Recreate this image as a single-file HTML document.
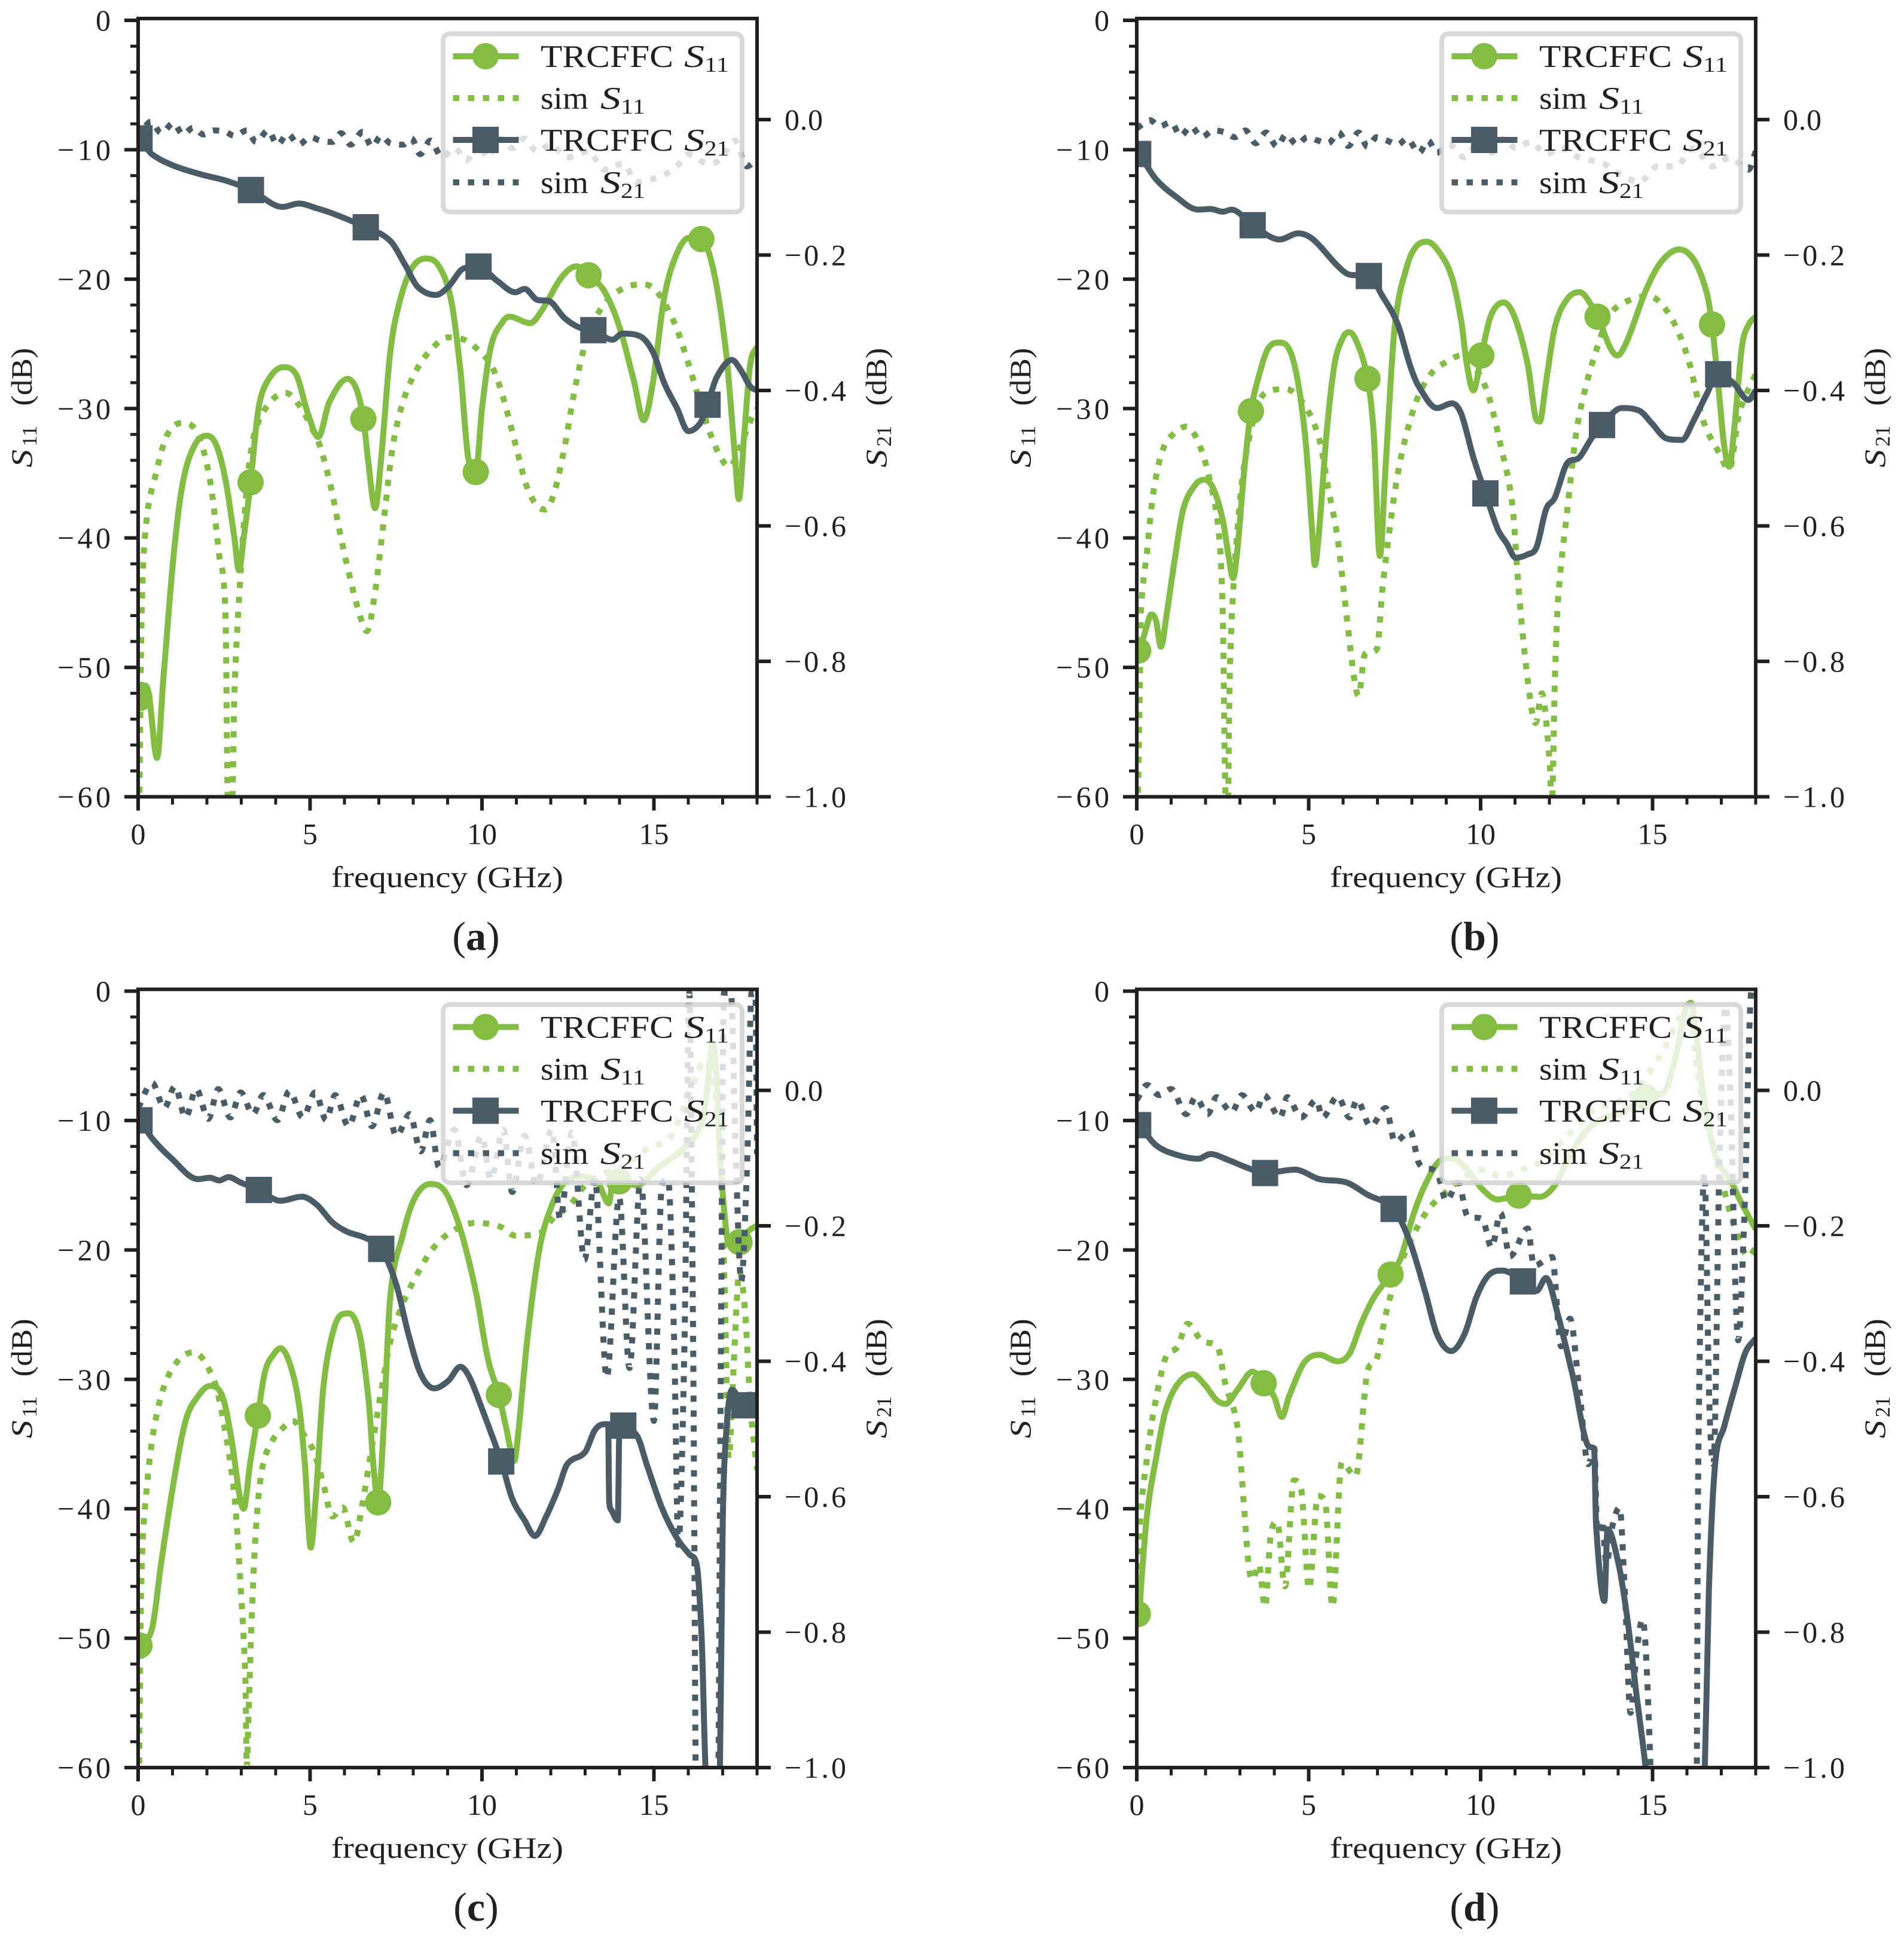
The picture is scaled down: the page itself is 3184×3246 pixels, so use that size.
<!DOCTYPE html>
<html>
<head>
<meta charset="utf-8">
<title>S-parameters of TRCFFC designs</title>
<style>
html,body{margin:0;padding:0;background:#fff;}
svg{display:block;}
text{font-family:"Liberation Serif",serif;fill:#231F20;}
</style>
</head>
<body>
<svg id="fig" xmlns="http://www.w3.org/2000/svg" width="3184" height="3246" viewBox="0 0 3184 3246"></svg>
<script>
// ---- axis tick values ----
const freqMajorTicks = [0,5,10,15];
const freqMinorTicks = [1,2,3,4,6,7,8,9,11,12,13,14,16,17,18];
const s11MajorTicks = [0,-10,-20,-30,-40,-50,-60];
const s11MinorTicks = [-2,-4,-6,-8,-12,-14,-16,-18,-22,-24,-26,-28,-32,-34,-36,-38,-42,-44,-46,-48,-52,-54,-56,-58];
const s21MajorTicks = [0,-0.2,-0.4,-0.6,-0.8,-1];
const s21TickLabels = ['0.0','−0.2','−0.4','−0.6','−0.8','−1.0'];
const legendNames = ['TRCFFC','sim','TRCFFC','sim'];
const legendSubs = ['11','11','21','21'];

// ---- panel (a) ----
const aS11MeasF = [0,.09,.2,.32,.55,.73,1.03,1.3,1.65,2,2.27,2.54,2.8,2.93,3.07,3.27,3.5,3.78,4.22,4.58,4.94,5.24,5.56,6.09,6.35,6.55,6.7,6.89,7.07,7.33,7.6,7.95,8.36,8.75,9.1,9.37,9.6,9.82,10,10.26,10.6,10.8,11.4,11.77,12.3,12.75,13.1,13.55,14,14.43,14.7,14.97,15.3,15.67,16.03,16.38,16.74,17.1,17.36,17.47,17.63,17.8,18];
const aS11Meas = [-52.5,-52.2,-51.4,-52.2,-57,-51,-41.4,-35.7,-32.8,-32.1,-32.8,-35.5,-40,-42.5,-40,-35.7,-30,-27.8,-26.8,-27.3,-30.4,-32.2,-29.5,-27.7,-28.5,-30.8,-34.3,-37.7,-33.8,-25.7,-21.8,-19.2,-18.4,-19,-21.6,-27,-33.8,-34.9,-30,-25.2,-23.3,-22.9,-23.4,-22.3,-19.9,-19,-19.7,-20.9,-23.7,-28,-30.9,-28,-21.4,-18,-16.8,-16.9,-19.4,-25.7,-33.8,-37,-31.9,-26.6,-25.2];
const aS11Marks = [.04,3.27,6.55,9.82,13.1,16.38];
const aS11SimF = [.03,.1,.23,.5,.85,1.3,1.74,2.1,2.36,2.54,2.62,2.72,2.8,2.95,3.1,3.27,3.5,3.95,4.3,4.7,5.05,5.3,5.6,5.9,6.2,6.45,6.65,6.9,7.15,7.4,7.7,8.1,8.5,9,9.5,9.9,10.3,10.6,10.95,11.3,11.6,11.85,12.1,12.4,12.7,13,13.3,13.7,14.2,14.7,15.1,15.6,16,16.4,16.8,17.2,17.5,17.8,18];
const aS11Sim = [-62,-46,-39,-35.2,-32,-31.1,-32,-35.7,-41.4,-46,-62,-62,-52,-44,-38,-33.5,-31,-29.2,-28.8,-29.8,-31.5,-33,-36,-40,-43.5,-46,-47.2,-44,-38.5,-33,-29.5,-27,-25.5,-24.5,-24.7,-25.5,-26.8,-29,-32.5,-36,-37.5,-37.8,-36.5,-33,-28.5,-25,-23,-21.5,-20.6,-20.4,-21,-23.4,-26.5,-30,-33,-34.5,-33,-31,-30];
const aS21MeasF = [0,.1,.4,1.03,1.83,2.54,3.28,4.2,4.67,5.2,5.73,6.62,7.33,7.78,8.13,8.66,9.02,9.46,9.9,10.44,10.97,11.24,11.6,11.95,12.4,12.83,13.24,13.8,14.08,14.6,14.97,15.3,15.67,16,16.35,16.56,16.83,17.27,17.54,17.8,18];
const aS21Meas = [-.025,-.032,-.051,-.068,-.081,-.09,-.104,-.129,-.124,-.131,-.14,-.159,-.179,-.216,-.247,-.259,-.247,-.22,-.217,-.238,-.255,-.25,-.266,-.268,-.293,-.307,-.311,-.325,-.316,-.32,-.343,-.389,-.426,-.46,-.448,-.421,-.38,-.355,-.371,-.394,-.4];
const aS21Marks = [.04,3.28,6.62,9.9,13.24,16.56];
const aS21SimF = [0,.37,.67,1.03,1.3,1.6,1.9,2.2,2.54,2.8,3.16,3.43,3.78,4.05,4.35,4.67,5,5.3,5.65,5.9,6.18,6.53,6.8,7.07,7.33,7.7,7.95,8.2,8.5,8.84,9.2,9.55,9.9,10.17,10.53,10.88,11.24,11.6,12,12.48,13.1,13.55,14.1,14.5,15.23,15.67,16,16.56,16.9,17.36,17.7,18];
const aS21Sim = [-.028,-.003,-.02,-.005,-.022,-.012,-.022,-.016,-.018,-.024,-.016,-.033,-.016,-.037,-.021,-.037,-.026,-.031,-.033,-.02,-.037,-.018,-.04,-.024,-.035,-.037,-.028,-.051,-.031,-.056,-.042,-.06,-.035,-.056,-.028,-.042,-.028,-.047,-.037,-.056,-.047,-.074,-.065,-.092,-.083,-.069,-.051,-.065,-.06,-.031,-.069,-.058];

// ---- panel (b) ----
const bS11MeasF = [0,.09,.3,.42,.56,.7,.88,1.09,1.35,1.7,1.97,2.23,2.5,2.67,2.8,2.94,3.11,3.32,3.55,3.81,4.13,4.43,4.69,4.92,5.1,5.18,5.3,5.52,5.75,6,6.19,6.45,6.71,6.89,7.07,7.24,7.5,7.86,8.12,8.44,8.82,9.17,9.44,9.6,9.79,10.02,10.3,10.67,11,11.37,11.63,11.72,11.9,12.16,12.5,12.87,13.4,13.75,13.97,14.27,14.8,15.24,15.77,16.2,16.56,16.73,16.94,17.08,17.23,17.4,17.6,17.8,18];
const bS11Meas = [-48.8,-48.6,-46.7,-45.9,-46.4,-48.4,-45.7,-41.9,-37.8,-35.9,-35.5,-36.2,-38.6,-41.4,-43.1,-40.5,-35.2,-30.2,-27.5,-25.4,-24.9,-25.4,-28,-32.8,-39.5,-42.1,-39.5,-31.9,-26.6,-24.5,-24.1,-25.2,-27.7,-31.9,-41.4,-34.3,-23.7,-19,-17.5,-17.1,-18,-19.9,-23.3,-26.6,-28.6,-25.9,-22.8,-21.8,-23,-26.6,-30.9,-31,-28,-23.7,-21.6,-21,-22.9,-25.2,-25.9,-24.7,-20.9,-18.7,-17.7,-18.5,-20.9,-23.5,-29,-32.8,-34.5,-30.9,-25.2,-23.5,-22.9];
const bS11Marks = [.04,3.32,6.71,10.02,13.4,16.73];
const bS11SimF = [.02,.09,.12,.3,.47,.74,1.09,1.44,1.79,2.14,2.4,2.5,2.58,2.64,2.7,2.81,3.02,3.23,3.55,3.9,4.34,4.87,5.3,5.57,5.84,6.1,6.33,6.45,6.63,6.98,7.15,7.42,7.68,8.12,8.56,9,9.44,9.88,10.23,10.58,10.93,11.1,11.37,11.6,11.78,12,12.07,12.16,12.25,12.51,12.78,13.04,13.4,13.75,14.18,14.88,15.5,16.03,16.47,16.91,17.23,17.52,18];
const bS11Sim = [-62,-51,-45.7,-41,-36.7,-33.3,-31.9,-31.4,-32.6,-35.7,-40,-46,-60,-62,-51,-43.8,-36.6,-32.8,-29.5,-28.6,-28.5,-29.7,-32.3,-36.2,-40,-46,-51,-52.2,-49,-48.6,-43.8,-38,-33.8,-29.5,-27.3,-26.4,-25.9,-27,-29,-32.8,-37.6,-43.8,-51,-54.3,-52,-57,-60.5,-51,-44.8,-38.1,-31.9,-28.5,-25.2,-22.8,-21.8,-21.3,-22.8,-26.1,-30.9,-33.3,-34.7,-30.4,-27.3];
const bS21MeasF = [0,.09,.56,1.09,1.79,2.14,2.5,2.76,3.37,4.16,4.69,5.13,5.84,6.19,6.75,7.15,7.59,7.94,8.2,8.73,9.17,9.44,9.79,10.14,10.49,10.76,11.02,11.37,11.63,11.9,12.16,12.51,12.87,13.22,13.53,14.1,14.62,14.97,15.41,15.85,16.2,16.56,16.91,17.35,17.79,18];
const bS21Meas = [-.049,-.053,-.088,-.112,-.133,-.132,-.136,-.133,-.156,-.177,-.168,-.177,-.216,-.229,-.231,-.261,-.302,-.362,-.394,-.426,-.419,-.435,-.499,-.552,-.604,-.626,-.647,-.642,-.631,-.576,-.558,-.508,-.499,-.471,-.451,-.426,-.43,-.448,-.471,-.473,-.444,-.407,-.376,-.389,-.414,-.4];
const bS21Marks = [.04,3.37,6.75,10.14,13.53,16.91];
const bS21SimF = [0,.39,.65,1,1.27,1.58,1.88,2.23,2.58,2.85,3.16,3.46,3.76,4.08,4.34,4.66,4.96,5.27,5.57,5.87,6.15,6.45,6.71,6.98,7.28,7.59,7.86,8.21,8.47,8.73,9.09,9.53,9.96,10.32,10.67,11.02,11.46,11.9,12.34,12.86,13.57,14,14.62,15.15,15.68,16.2,16.73,17.26,17.79,18];
const bS21Sim = [-.013,-.001,-.01,-.004,-.024,-.01,-.026,-.016,-.019,-.026,-.016,-.035,-.019,-.04,-.022,-.037,-.026,-.031,-.035,-.019,-.039,-.019,-.04,-.026,-.031,-.037,-.028,-.049,-.031,-.049,-.037,-.056,-.031,-.049,-.028,-.042,-.033,-.051,-.042,-.056,-.065,-.079,-.092,-.069,-.069,-.042,-.069,-.056,-.074,-.047];

// ---- panel (c) ----
const cS11MeasF = [0,.09,.41,.67,1.03,1.38,1.74,2.09,2.45,2.72,2.95,3.07,3.25,3.48,3.69,3.96,4.14,4.4,4.67,4.85,5.02,5.17,5.38,5.65,5.91,6.12,6.44,6.71,6.84,6.98,7.12,7.33,7.69,8.04,8.49,8.93,9.37,9.82,10.17,10.49,10.7,10.94,11.06,11.33,11.68,12.04,12.4,12.84,13.37,13.69,13.8,13.99,14.5,15.14,15.85,16.39,16.56,16.7,16.83,16.92,17.06,17.18,17.49,17.72,18];
const cS11Meas = [-50.7,-50.4,-49.2,-44.2,-38,-33.2,-31.3,-30.5,-31.3,-34.7,-39,-40,-36.6,-32.8,-29.4,-28,-27.6,-28.7,-31.8,-36.6,-43,-39,-30.8,-26.5,-25,-24.9,-26.5,-31.8,-36.6,-39.5,-34.7,-23.7,-18.9,-16,-14.9,-15.5,-18.4,-23.2,-28.4,-31.2,-33.7,-36.3,-34,-26.6,-19.8,-16.5,-14.8,-14.3,-14.8,-16.4,-14.8,-14.7,-15,-13.6,-12.2,-10.2,-7.4,-4,-6.9,-12.6,-17.4,-19.6,-19.4,-18.6,-18.1];
const cS11Marks = [.04,3.48,6.98,10.49,13.99,17.49];
const cS11SimF = [.02,.09,.23,.5,.94,1.62,2.18,2.45,2.8,2.98,3.12,3.16,3.21,3.3,3.43,3.6,3.87,4.23,4.49,4.85,5.11,5.38,5.65,5.95,6.27,6.53,6.8,7.07,7.33,7.69,8.13,8.57,9.1,9.82,10.53,10.97,11.68,12.12,12.57,13,13.55,14.08,14.79,15.5,16.03,16.47,16.74,16.92,17.05,17.18,17.27,17.49,17.66,17.8,18];
const cS11Sim = [-62,-46,-39,-33.2,-29.4,-27.9,-29.9,-32.8,-39,-46,-53.2,-60,-56,-48.6,-41.4,-37,-34.9,-33.7,-33.2,-34.4,-35.6,-38,-40.6,-39.9,-42.6,-39.5,-35.2,-30.9,-27.1,-24.2,-21.8,-19.9,-18.6,-17.9,-18.2,-18.9,-18.7,-17.4,-16.5,-15,-14.1,-13.6,-12.2,-11.2,-7.9,-5.5,-6.9,-12.6,-22.2,-36.1,-31.8,-21.7,-25,-31.8,-37];
const cS21MeasF = [0,.09,.41,.94,1.74,2.09,2.36,2.63,2.98,3.51,4.14,4.76,5.2,5.65,6.09,6.62,7.07,7.51,7.86,8.22,8.61,9.02,9.37,9.64,10,10.56,10.88,11.24,11.54,11.86,12.21,12.48,13,13.28,13.55,13.67,13.7,13.78,13.95,14,14.11,14.52,14.79,15.23,15.68,16.03,16.24,16.39,16.51,16.74,16.92,17,17.1,17.27,17.63,18];
const cS21Meas = [-.042,-.047,-.071,-.099,-.131,-.129,-.133,-.128,-.136,-.147,-.163,-.157,-.169,-.195,-.209,-.218,-.234,-.287,-.36,-.419,-.44,-.429,-.408,-.424,-.47,-.548,-.603,-.635,-.658,-.63,-.589,-.552,-.534,-.502,-.493,-.493,-.608,-.621,-.635,-.493,-.495,-.511,-.552,-.616,-.662,-.685,-.699,-.809,-1.01,-1.11,-1,-.644,-.506,-.442,-.465,-.465];
const cS21Marks = [.04,3.51,7.07,10.56,14.11,17.63];
const cS21SimF = [0,.41,.76,1.07,1.38,1.69,2.04,2.33,2.68,2.98,3.34,3.64,4.05,4.4,4.79,5.15,5.47,5.73,6.12,6.48,6.8,7.15,7.51,7.9,8.22,8.49,8.75,9.2,9.55,9.99,10.26,10.62,10.88,11.24,11.59,12.04,12.27,12.62,12.98,13.28,13.63,13.99,14.29,14.61,15,15.23,15.41,15.59,15.71,15.89,16.03,16.14,16.24,16.85,16.95,17.04,17.24,17.38,17.54,17.72,17.84,17.95,18];
const cS21Sim = [-.026,.011,-.026,.006,-.04,.002,-.042,.002,-.04,-.003,-.035,-.007,-.044,-.001,-.04,-.003,-.044,-.007,-.053,-.007,-.053,-.003,-.067,-.035,-.09,-.044,-.113,-.058,-.14,-.067,-.131,-.058,-.15,-.067,-.14,-.058,-.19,-.062,-.25,-.131,-.424,-.158,-.41,-.131,-.488,-.14,-.131,-.37,-.671,-.37,.144,-.37,-1.1,-1.1,-.37,.144,.144,-.094,-.282,-.094,.144,.144,-.094];

// ---- panel (d) ----
const dS11MeasF = [0,.09,.12,.3,.56,.83,1.18,1.62,1.97,2.32,2.58,2.93,3.37,3.69,3.99,4.22,4.43,4.87,5.31,5.83,6.19,6.54,6.89,7.38,7.68,8.03,8.38,8.82,9.17,9.61,10.05,10.49,11.11,11.72,12.16,12.51,13.04,13.57,14.1,14.8,15.33,15.68,15.94,16.12,16.24,16.47,16.82,17.26,17.61,18];
const dS11Meas = [-48.4,-47.6,-46.1,-40.4,-36.1,-32.5,-30.4,-29.6,-30.4,-31.6,-31.9,-30.8,-29.4,-30.3,-31.3,-32.9,-31.3,-28.7,-28.1,-28.6,-28,-25.6,-23.7,-21.9,-20.6,-17.4,-15,-13.1,-12.9,-13.8,-15.3,-16.1,-15.8,-15.9,-15,-13.1,-10.9,-9.8,-9.4,-8.2,-7.8,-5,-1.6,-.9,-2.6,-7.8,-12.6,-14.6,-16.5,-18.4];
const dS11Marks = [.03,3.69,7.38,11.11,14.8];
const dS11SimF = [.01,.04,.12,.3,.47,.83,1.18,1.48,1.88,2.35,2.58,2.93,3.11,3.25,3.37,3.55,3.73,3.9,4.08,4.31,4.57,4.78,5.01,5.27,5.48,5.69,5.96,6.36,6.71,6.98,7.24,7.59,8.03,8.47,9,9.53,10.05,10.58,11.2,11.81,12.51,13.22,13.92,14.45,14.97,15.33,15.68,16.06,16.29,16.56,16.91,17.35,17.79,18];
const dS11Sim = [-47,-44,-40,-36,-32.8,-28.4,-27.5,-25.7,-27,-27.5,-30.4,-33.7,-39.5,-44.3,-45.5,-44.3,-47.6,-41.9,-41,-46,-37.8,-38.5,-46.2,-39,-39.5,-47.6,-36.4,-37.5,-29.4,-28.4,-25,-21.7,-18.9,-16.9,-15.5,-14.3,-13.8,-14.3,-13.8,-13.1,-11.2,-9.3,-8.6,-7.9,-6,-4.5,-2.6,-1.1,-6,-9.8,-13.6,-17.9,-20.5,-19.8];
const dS21MeasF = [0,.09,.56,1.09,1.79,2.14,2.67,3.2,3.73,4.6,5.31,6.1,6.71,7.47,7.94,8.38,8.73,9.14,9.53,9.88,10.23,10.63,11.23,11.63,11.9,12.25,12.69,13.13,13.3,13.36,13.6,13.69,14.01,14.27,14.53,14.8,15.15,16.29,16.52,16.64,16.82,17.08,17.43,17.7,18];
const dS21Meas = [-.05,-.053,-.081,-.094,-.101,-.094,-.103,-.114,-.122,-.117,-.131,-.136,-.154,-.175,-.223,-.296,-.36,-.385,-.36,-.305,-.273,-.266,-.282,-.296,-.277,-.332,-.424,-.525,-.529,-.644,-.754,-.648,-.699,-.781,-.891,-1.001,-1.19,-1.19,-1,-.735,-.552,-.497,-.433,-.387,-.366];
const dS21Marks = [.04,3.73,7.47,11.23];
const dS21SimF = [0,.3,.65,1,1.44,1.71,2.06,2.32,2.76,3.06,3.46,3.69,4.17,4.38,4.78,5.22,5.4,5.84,6.19,6.4,6.8,7.24,7.51,7.95,8.21,8.74,9,9.35,9.62,10.05,10.32,10.58,10.85,11.37,11.55,12.08,12.34,12.6,12.87,13.13,13.31,13.39,13.53,13.66,13.83,14.04,14.19,14.36,14.54,14.71,14.94,14.98,16.26,16.33,16.51,16.65,16.77,16.95,17.12,17.26,17.49,17.67,17.88,18];
const dS21Sim = [-.014,.008,-.007,.002,-.035,-.01,-.035,-.01,-.032,-.007,-.032,-.007,-.04,-.01,-.04,-.014,-.04,-.009,-.04,-.014,-.053,-.026,-.076,-.06,-.108,-.122,-.163,-.136,-.186,-.19,-.232,-.181,-.245,-.204,-.259,-.246,-.378,-.337,-.442,-.552,-.529,-.653,-.635,-.699,-.644,-.616,-.735,-.919,-.827,-.781,-1,-1.19,-1.19,-.552,-.122,-.46,-.552,-.094,.125,-.003,-.369,-.186,.147,.147];

// ---- drawing ----
const NS = 'http://www.w3.org/2000/svg';
const GREEN = '#82BC41', SLATE = '#495C68', INK = '#231F20';
const FIG = document.getElementById('fig');
function mk(parent, tag, attrs, txt){
  const e = document.createElementNS(NS, tag);
  for (const k in attrs) e.setAttribute(k, attrs[k]);
  if (txt !== undefined) e.textContent = txt;
  parent.appendChild(e);
  return e;
}
function interp(fs, vs, f){
  for (let i = 1; i < fs.length; i++){
    if (f <= fs[i]){
      const t = (f - fs[i-1]) / (fs[i] - fs[i-1]);
      return vs[i-1] + t * (vs[i] - vs[i-1]);
    }
  }
  return vs[vs.length-1];
}
function smoothPath(xs, ys){
  const n = xs.length, d = [], m = [];
  for (let i = 0; i < n-1; i++) d.push((ys[i+1]-ys[i]) / (xs[i+1]-xs[i]));
  m[0] = d[0]; m[n-1] = d[n-2];
  for (let i = 1; i < n-1; i++){
    if (d[i-1]*d[i] <= 0){ m[i] = 0; continue; }
    const fd = (ys[i+1]-ys[i-1]) / (xs[i+1]-xs[i-1]);
    const lim = 3 * Math.min(Math.abs(d[i-1]), Math.abs(d[i]));
    m[i] = Math.sign(fd) * Math.min(Math.abs(fd), lim);
  }
  let p = 'M' + xs[0].toFixed(1) + ' ' + ys[0].toFixed(1);
  for (let i = 0; i < n-1; i++){
    const h = (xs[i+1]-xs[i]) / 3;
    p += 'C' + (xs[i]+h).toFixed(1) + ' ' + (ys[i]+m[i]*h).toFixed(1) + ' ' +
         (xs[i+1]-h).toFixed(1) + ' ' + (ys[i+1]-m[i+1]*h).toFixed(1) + ' ' +
         xs[i+1].toFixed(1) + ' ' + ys[i+1].toFixed(1);
  }
  return p;
}
function glyphWidth(s){
  let w = 0;
  for (const c of s) w += c === '−' ? 39 : c === '.' ? 14 : 25;
  return w;
}

function drawPanel(id, L, T, letter, d){
  const W = 1035, H = 1301.5;
  const X = f => L + f * W / 18;
  const Y11 = v => T + 3 - v * (H - 3) / 60;
  const Y21 = v => T + 169 - v * (H - 169);

  const g = mk(FIG, 'g', {});
  
  

  const defs = mk(g, 'defs', {});
  const cp = mk(defs, 'clipPath', {id: 'clip-' + id});
  mk(cp, 'rect', {x: L, y: T, width: W, height: H});

  const plot = mk(g, 'g', {'clip-path': 'url(#clip-' + id + ')'});
  
  

  function series(name, fs, vs, yf, color, dotted, marks, shape){
    const sg = mk(plot, 'g', {});
    
    
    const attrs = {d: smoothPath(fs.map(X), vs.map(yf)), fill: 'none', stroke: color, 'stroke-width': 10, 'stroke-linejoin': 'round'};
    if (dotted) attrs['stroke-dasharray'] = '10.5 14.5';
    const line = mk(sg, 'path', attrs);
    
    
    (marks || []).forEach(f => {
      const cx = X(f), cy = yf(interp(fs, vs, f));
      if (shape === 'circle'){
        const c = mk(sg, 'circle', {cx: cx, cy: cy, r: 22, fill: color});
        
        
      } else {
        const r = mk(sg, 'rect', {x: cx-22, y: cy-22, width: 44, height: 44, fill: color});
        
        
      }
    });
  }
  series('trcffc-s11', d.s11mf, d.s11m, Y11, GREEN, false, d.s11k, 'circle');
  series('sim-s11', d.s11sf, d.s11s, Y11, GREEN, true);
  series('trcffc-s21', d.s21mf, d.s21m, Y21, SLATE, false, d.s21k, 'square');
  series('sim-s21', d.s21sf, d.s21s, Y21, SLATE, true);

  // legend
  const lg = mk(g, 'g', {});
  
  
  const box = mk(lg, 'rect', {x: L+510, y: T+25.5, width: 500, height: 298, rx: 11, ry: 11, fill: '#fff', 'fill-opacity': 0.8, stroke: '#CFD0D1', 'stroke-opacity': 0.8, 'stroke-width': 8});
  
  
  const rowColors = [GREEN, GREEN, SLATE, SLATE];
  const rowY = [63, 133, 203, 274];
  legendNames.forEach((nm, i) => {
    const ry = T + rowY[i], ent = mk(lg, 'g', {});
    
    
    const isSim = i % 2 === 1;
    const ln = mk(ent, 'line', {x1: L+526.5, x2: L+636.5, y1: ry, y2: ry, stroke: rowColors[i], 'stroke-width': 10});
    if (isSim) ln.setAttribute('stroke-dasharray', '10.5 14.5');
    
    
    if (i === 0){
      const m = mk(ent, 'circle', {cx: L+581, cy: ry, r: 22, fill: GREEN});
      
      
    }
    if (i === 2){
      const m = mk(ent, 'rect', {x: L+559, y: ry-22, width: 44, height: 44, fill: SLATE});
      
      
    }
    const by = ry + 18, tx = L + 673;
    const t = mk(ent, 'text', {'font-size': 53});
    
    
    mk(t, 'tspan', {x: tx, y: by, textLength: isSim ? 80 : 222, lengthAdjust: 'spacingAndGlyphs'}, nm);
    mk(t, 'tspan', {x: tx + (isSim ? 100 : 240), y: by, 'font-style': 'italic', textLength: 34, lengthAdjust: 'spacingAndGlyphs'}, 'S');
    mk(t, 'tspan', {x: tx + (isSim ? 134 : 274), y: by + 8, 'font-size': 36, textLength: 41, lengthAdjust: 'spacingAndGlyphs'}, legendSubs[i]);
  });

  // axes
  const ax = mk(g, 'g', {stroke: INK});
  
  
  const xTicks = mk(g, 'g', {});
  
  
  const yTicks = mk(g, 'g', {});
  
  
  const rTicks = mk(g, 'g', {});
  
  

  freqMinorTicks.forEach(f => mk(xTicks, 'line', {x1: X(f), x2: X(f), y1: T+H, y2: T+H+13, stroke: INK, 'stroke-width': 5}));
  freqMajorTicks.forEach(f => {
    mk(xTicks, 'line', {x1: X(f), x2: X(f), y1: T+H, y2: T+H+23, stroke: INK, 'stroke-width': 6});
    const tl = mk(xTicks, 'text', {x: X(f), y: T+H+79, 'font-size': 50, 'text-anchor': 'middle'}, String(f));
    
    
  });
  s11MinorTicks.forEach(v => mk(yTicks, 'line', {x1: L-13, x2: L, y1: Y11(v), y2: Y11(v), stroke: INK, 'stroke-width': 5}));
  s11MajorTicks.forEach(v => {
    mk(yTicks, 'line', {x1: L-23, x2: L, y1: Y11(v), y2: Y11(v), stroke: INK, 'stroke-width': 6});
    const s = v === 0 ? '0' : '−' + (-v);
    const tl = mk(yTicks, 'text', {x: L-46, y: Y11(v)+17, 'font-size': 50, 'text-anchor': 'end', textLength: glyphWidth(s), lengthAdjust: 'spacing'}, s);
    
    
  });
  s21MajorTicks.forEach((v, i) => {
    mk(rTicks, 'line', {x1: L+W, x2: L+W+23, y1: Y21(v), y2: Y21(v), stroke: INK, 'stroke-width': 6});
    const tl = mk(rTicks, 'text', {x: L+W+46, y: Y21(v)+17, 'font-size': 50, textLength: glyphWidth(s21TickLabels[i]), lengthAdjust: 'spacing'}, s21TickLabels[i]);
    
    
  });

  const spine = mk(ax, 'rect', {x: L, y: T, width: W, height: H, fill: 'none', 'stroke-width': 6});
  
  

  // axis titles
  const xt = mk(g, 'text', {x: L+517, y: T+H+151, 'font-size': 50, 'text-anchor': 'middle', textLength: 388, lengthAdjust: 'spacingAndGlyphs'}, 'frequency (GHz)');
  
  

  function yTitle(nm, sub, bx){
    const yc = T + H/2 + 100;
    const tg = mk(g, 'text', {transform: 'rotate(-90 ' + bx + ' ' + yc + ')', 'font-size': 50});
    
    
    mk(tg, 'tspan', {x: bx, y: yc, 'font-style': 'italic', textLength: 30, lengthAdjust: 'spacingAndGlyphs'}, 'S');
    mk(tg, 'tspan', {x: bx+35, y: yc+8, 'font-size': 35, textLength: 35, lengthAdjust: 'spacingAndGlyphs'}, sub);
    mk(tg, 'tspan', {x: bx+103, y: yc, textLength: 97, lengthAdjust: 'spacingAndGlyphs'}, '(dB)');
  }
  yTitle('s11-axis-title', '11', L-178);
  yTitle('s21-axis-title', '21', L+W+216);

  const cap = mk(g, 'text', {x: L+565, y: T+H+256, 'font-size': 68, 'text-anchor': 'middle'});
  
  
  mk(cap, 'tspan', {}, '(');
  mk(cap, 'tspan', {'font-weight': 'bold'}, letter);
  mk(cap, 'tspan', {}, ')');
}

drawPanel('a', 231, 31, 'a', {s11mf: aS11MeasF, s11m: aS11Meas, s11k: aS11Marks, s11sf: aS11SimF, s11s: aS11Sim, s21mf: aS21MeasF, s21m: aS21Meas, s21k: aS21Marks, s21sf: aS21SimF, s21s: aS21Sim});
drawPanel('b', 1901, 31, 'b', {s11mf: bS11MeasF, s11m: bS11Meas, s11k: bS11Marks, s11sf: bS11SimF, s11s: bS11Sim, s21mf: bS21MeasF, s21m: bS21Meas, s21k: bS21Marks, s21sf: bS21SimF, s21s: bS21Sim});
drawPanel('c', 231, 1654.5, 'c', {s11mf: cS11MeasF, s11m: cS11Meas, s11k: cS11Marks, s11sf: cS11SimF, s11s: cS11Sim, s21mf: cS21MeasF, s21m: cS21Meas, s21k: cS21Marks, s21sf: cS21SimF, s21s: cS21Sim});
drawPanel('d', 1901, 1654.5, 'd', {s11mf: dS11MeasF, s11m: dS11Meas, s11k: dS11Marks, s11sf: dS11SimF, s11s: dS11Sim, s21mf: dS21MeasF, s21m: dS21Meas, s21k: dS21Marks, s21sf: dS21SimF, s21s: dS21Sim});
</script>
</body>
</html>
